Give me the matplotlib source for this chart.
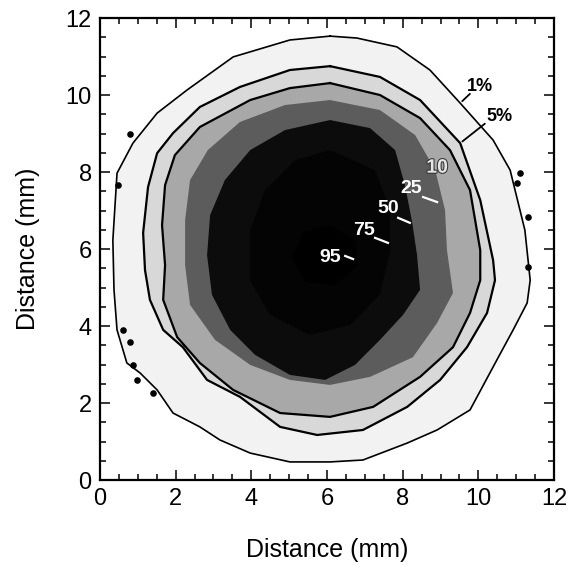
import matplotlib
matplotlib.use("Agg")
import matplotlib.pyplot as plt
import matplotlib.patheffects as pe
import numpy as np
from matplotlib.ticker import MultipleLocator

plt.rcParams["font.family"] = ["Liberation Sans", "DejaVu Sans"]

# contour outlines (x, y in mm), clockwise from the top
c1_x = [6.08, 6.79, 7.85, 8.72, 9.52, 10.39, 10.84, 11.23, 11.37, 11.29, 10.92, 10.49, 9.78, 8.91,
        8.12, 6.95, 6.08, 5.02, 3.97, 3.17, 2.64, 1.93, 1.51, 1.06, 0.71, 0.45, 0.37, 0.34, 0.45,
        0.87, 1.51, 2.30, 3.52, 5.02]
c1_y = [11.53, 11.48, 11.25, 10.65, 9.79, 8.83, 8.05, 6.49, 5.19, 4.60, 3.90, 3.12, 1.82, 1.30,
        0.96, 0.52, 0.47, 0.47, 0.70, 1.04, 1.38, 1.74, 2.34, 2.78, 3.04, 3.90, 4.94, 6.23, 7.97,
        8.75, 9.53, 10.13, 10.99, 11.43]

c5_x = [6.08, 7.40, 8.46, 9.52, 10.05, 10.39, 10.44, 10.23, 9.70, 8.99, 8.12, 6.95, 5.74, 4.76,
        3.70, 2.83, 2.19, 1.67, 1.32, 1.19, 1.14, 1.27, 1.51, 1.93, 2.64, 3.70, 5.02]
c5_y = [10.75, 10.47, 9.87, 8.75, 7.27, 5.71, 5.19, 4.34, 3.45, 2.60, 1.90, 1.30, 1.17, 1.38,
        2.16, 2.60, 3.45, 3.90, 4.68, 5.45, 6.42, 7.61, 8.49, 9.01, 9.69, 10.21, 10.65]

c10_x = [6.08, 7.40, 8.46, 9.25, 9.78, 10.05, 10.05, 9.78, 9.33, 8.46, 7.22, 6.08, 4.76, 3.52,
         2.64, 2.04, 1.67, 1.72, 1.64, 1.72, 1.98, 2.64, 3.97, 5.02]
c10_y = [10.31, 10.00, 9.40, 8.57, 7.53, 5.97, 5.19, 4.34, 3.45, 2.68, 1.90, 1.64, 1.74, 2.34,
         3.04, 3.71, 4.68, 5.58, 6.62, 7.66, 8.44, 9.17, 9.87, 10.18]

c25_x = [6.08, 7.40, 8.33, 8.86, 9.12, 9.17, 9.33, 8.91, 8.27, 7.14, 6.08, 5.02, 3.97, 3.04,
         2.38, 2.25, 2.25, 2.38, 2.85, 3.70, 4.89]
c25_y = [9.87, 9.61, 8.96, 8.05, 7.01, 5.97, 4.86, 4.08, 3.19, 2.68, 2.47, 2.60, 2.99, 3.64,
         4.55, 5.58, 6.75, 7.79, 8.57, 9.30, 9.74]

c50_x = [6.08, 7.14, 7.80, 8.06, 8.25, 8.38, 8.46, 8.01, 7.40, 6.74, 5.95, 5.02, 4.10, 3.44,
         2.96, 2.83, 2.91, 3.30, 3.97, 4.89]
c50_y = [9.35, 9.14, 8.57, 7.66, 6.70, 5.84, 4.94, 4.29, 3.64, 2.99, 2.60, 2.73, 3.25, 3.90,
         4.81, 5.84, 6.88, 7.79, 8.57, 9.09]

c75_x = [6.08, 7.27, 7.67, 7.67, 7.40, 6.61, 5.55, 4.49, 3.97, 3.97, 4.36, 5.16]
c75_y = [8.57, 8.05, 7.01, 5.97, 4.81, 4.03, 3.77, 4.29, 5.19, 6.49, 7.53, 8.31]

c95_x = [6.08, 6.74, 6.82, 6.21, 5.42, 5.08, 5.37]
c95_y = [6.62, 6.23, 5.58, 5.06, 5.14, 5.77, 6.44]

# little specks along the outer (1%) line
speck_x = [0.61, 0.79, 0.87, 0.98, 1.40, 0.79, 0.48, 11.10, 11.02, 11.31, 11.31]
speck_y = [3.90, 3.58, 2.99, 2.60, 2.26, 8.99, 7.66, 7.97, 7.71, 6.83, 5.53]

fills = ["#f2f2f2", "#d8d8d8", "#a8a8a8", "#5c5c5c", "#0c0c0c", "#040404", "#000000"]

fig = plt.figure(figsize=(5.74, 5.65), dpi=100)
ax = fig.add_axes([0.1742, 0.1504, 0.7910, 0.8177])

outlines = [(c1_x, c1_y), (c5_x, c5_y), (c10_x, c10_y), (c25_x, c25_y),
            (c50_x, c50_y), (c75_x, c75_y), (c95_x, c95_y)]
for (cx, cy), col in zip(outlines, fills):
    ax.fill(cx, cy, color=col, lw=0, zorder=1)

# drawn contour lines for the outer three levels
for (cx, cy), lw in zip(outlines[:3], [1.2, 1.6, 1.6]):
    ax.plot(cx + cx[:1], cy + cy[:1], color="black", lw=lw, zorder=2)

ax.scatter(speck_x, speck_y, s=14, color="black", zorder=3)

# level labels
ax.annotate("", xy=(9.52, 9.79), xytext=(9.83, 10.08),
            arrowprops=dict(arrowstyle="-", color="black", lw=1.3))
ax.text(10.05, 10.23, "1%", fontsize=13, fontweight="bold", ha="center", va="center")
ax.annotate("", xy=(9.52, 8.75), xytext=(10.23, 9.30),
            arrowprops=dict(arrowstyle="-", color="black", lw=1.3))
ax.text(10.57, 9.45, "5%", fontsize=13, fontweight="bold", ha="center", va="center")

ax.text(8.91, 8.10, "10", fontsize=14, fontweight="bold", ha="center", va="center",
        color="#e6e6e6", path_effects=[pe.withStroke(linewidth=1.5, foreground="#333333")])
inner = [("25", 8.22, 7.56, (8.54, 7.35), (8.91, 7.22)),
         ("50", 7.61, 7.04, (7.88, 6.81), (8.19, 6.68)),
         ("75", 6.98, 6.47, (7.27, 6.29), (7.61, 6.16)),
         ("95", 6.08, 5.79, (6.48, 5.82), (6.69, 5.74))]
for lab, tx, ty, p0, p1 in inner:
    ax.text(tx, ty, lab, fontsize=14, fontweight="bold", color="white", ha="center", va="center")
    ax.plot([p0[0], p1[0]], [p0[1], p1[1]], color="white", lw=1.6, zorder=4)

ax.set_xlim(0, 12)
ax.set_ylim(0, 12)
ax.xaxis.set_major_locator(MultipleLocator(2))
ax.yaxis.set_major_locator(MultipleLocator(2))
ax.xaxis.set_minor_locator(MultipleLocator(0.5))
ax.yaxis.set_minor_locator(MultipleLocator(0.5))
ax.tick_params(which="both", direction="in", top=True, right=True, width=1.1)
ax.tick_params(which="major", length=7, labelsize=17, pad=6)
ax.tick_params(which="minor", length=4.5)
for s in ax.spines.values():
    s.set_linewidth(1.6)

ax.set_xlabel("Distance (mm)", fontsize=18, labelpad=20)
ax.set_ylabel("Distance (mm)", fontsize=18, labelpad=18)

fig.savefig("out.png", dpi=100)
